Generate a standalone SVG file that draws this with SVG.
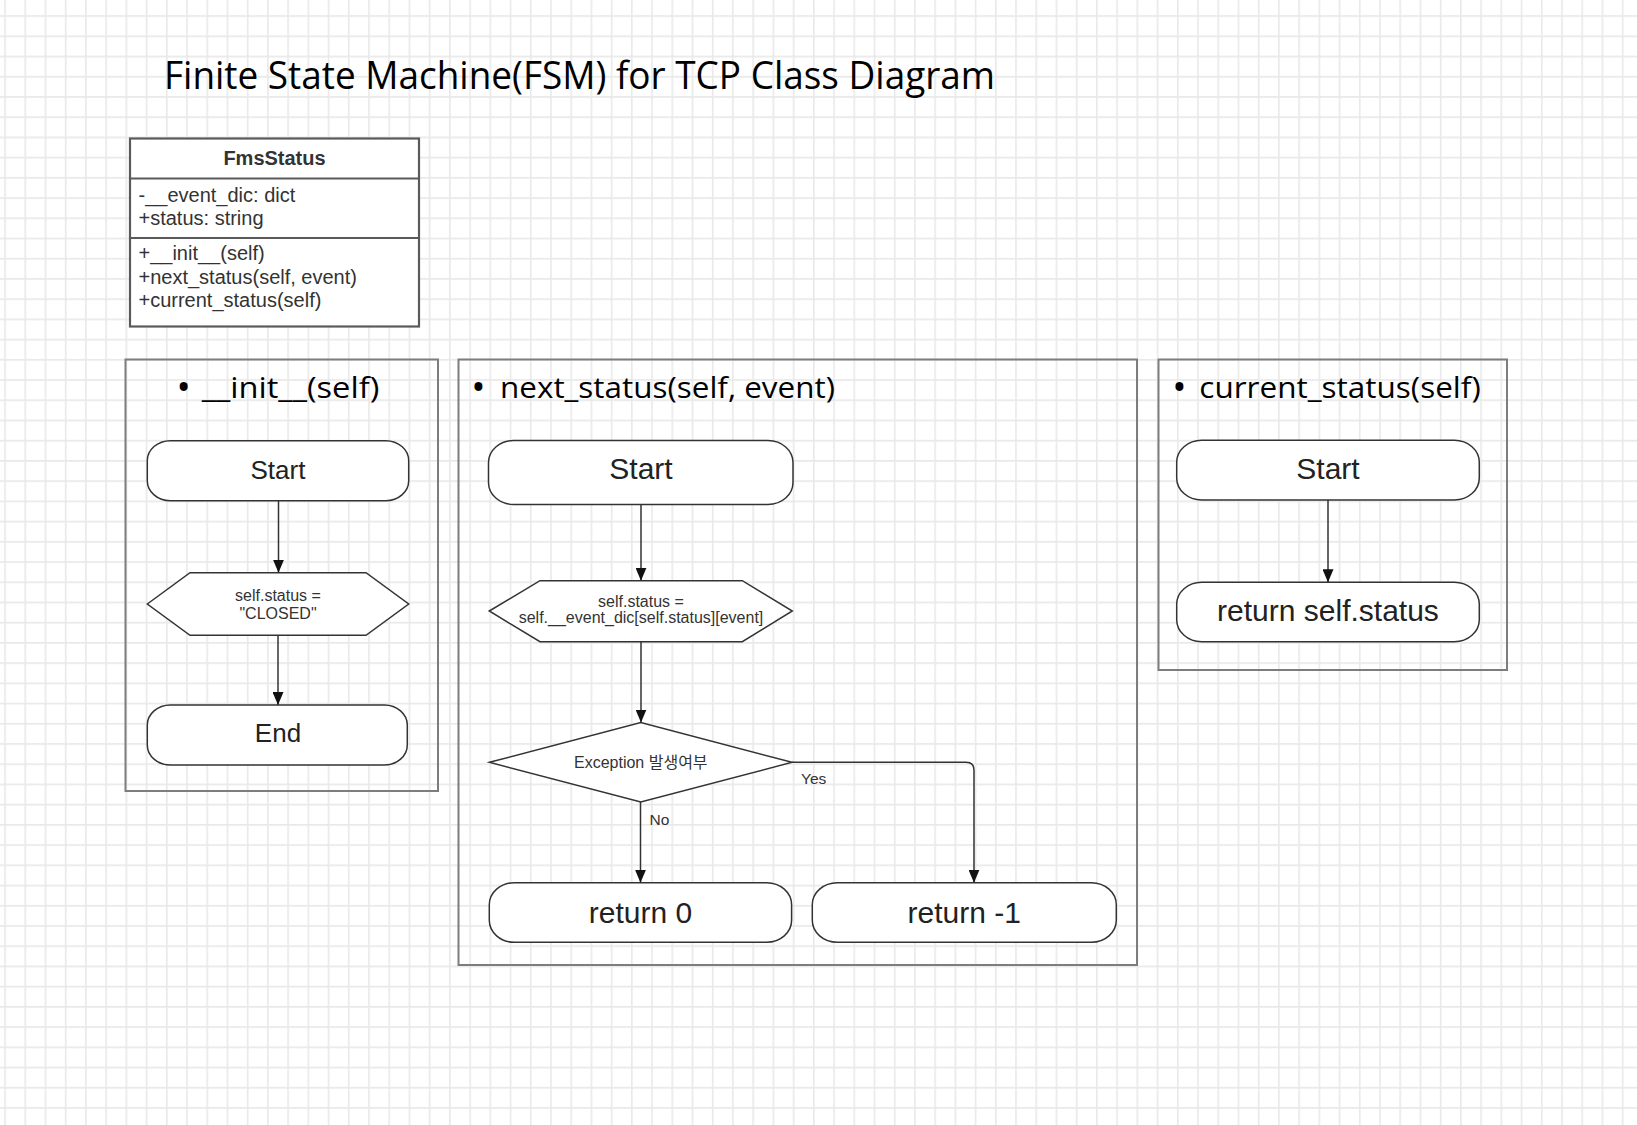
<svg xmlns="http://www.w3.org/2000/svg" width="1637" height="1125" viewBox="0 0 1637 1125">
<defs>
<pattern id="grid" x="4.2" y="15.2" width="20.22" height="20.22" patternUnits="userSpaceOnUse">
<path d="M0 0.8 H20.22 M0.8 0 V20.22" fill="none" stroke="#e9e9e9" stroke-width="1.6"/>
</pattern>
<marker id="arr" markerUnits="userSpaceOnUse" markerWidth="13" markerHeight="11" refX="13" refY="5.5" orient="auto">
<path d="M0,0 L13,5.5 L0,11 z" fill="#111"/>
</marker>
</defs>
<style>
.title{font-family:"Open Sans","Noto Sans",sans-serif;fill:#000}
.sec{font-family:"Open Sans","Noto Sans",sans-serif;font-size:30px;fill:#000}
.bul{font-family:"Open Sans","Noto Sans",sans-serif;font-size:38px;fill:#000;text-anchor:middle}
.cont{fill:none;stroke:#7d7d7d;stroke-width:2}
.cls{fill:#fff;stroke:#5a5a5a;stroke-width:2.2}
.clsline{stroke:#5a5a5a;stroke-width:2.2}
.ct{font-family:"Liberation Sans",Arial,sans-serif;font-size:20px;fill:#333}
.shape{fill:#fff;stroke:#333;stroke-width:1.5}
.big{font-family:"Liberation Sans",Arial,sans-serif;font-size:30px;fill:#222;text-anchor:middle}
.mid{font-family:"Liberation Sans",Arial,sans-serif;font-size:26px;fill:#222;text-anchor:middle}
.small{font-family:"Liberation Sans","Noto Sans CJK KR",Arial,sans-serif;font-size:16px;fill:#333;text-anchor:middle}
.lbl{font-family:"Liberation Sans",Arial,sans-serif;font-size:15.5px;fill:#333}
.conn{fill:none;stroke:#333;stroke-width:1.5;marker-end:url(#arr)}
</style>
<rect x="0" y="0" width="1637" height="1125" fill="#fff"/>
<rect x="0" y="0" width="1637" height="1125" fill="url(#grid)"/>

<text class="title" x="164" y="89" font-size="39" textLength="831" lengthAdjust="spacingAndGlyphs">Finite State Machine(FSM) for TCP Class Diagram</text>

<g id="FmsStatus">
<rect class="cls" x="130" y="138.5" width="289" height="188"/>
<line class="clsline" x1="130" y1="178.5" x2="419" y2="178.5"/>
<line class="clsline" x1="130" y1="238" x2="419" y2="238"/>
<text class="ct" x="274.5" y="165" text-anchor="middle" font-weight="bold">FmsStatus</text>
<text class="ct" x="138.5" y="201.5">-__event_dic: dict</text>
<text class="ct" x="138.5" y="225">+status: string</text>
<text class="ct" x="138.5" y="260">+__init__(self)</text>
<text class="ct" x="138.5" y="283.5">+next_status(self, event)</text>
<text class="ct" x="138.5" y="307">+current_status(self)</text>
</g>

<g id="init_container">
<rect class="cont" x="125.5" y="359.5" width="312.5" height="431.5"/>
<text class="bul" x="183.7" y="401">•</text>
<text class="sec" x="201.7" y="398" textLength="177.6" lengthAdjust="spacingAndGlyphs">__init__(self)</text>
</g>
<g id="init_start">
<rect class="shape" x="147.3" y="440.7" width="261.4" height="60" rx="23" ry="20"/>
<text class="mid" x="278" y="478.5">Start</text>
</g>
<g id="init_assign">
<polygon class="shape" points="147.3,604 190,572.7 366,572.7 408.7,604 366,635.3 190,635.3"/>
<text class="small" x="278" y="600.7">self.status =</text>
<text class="small" x="278" y="619.3">"CLOSED"</text>
</g>
<g id="init_end">
<rect class="shape" x="147.3" y="705" width="260" height="60" rx="23" ry="20"/>
<text class="mid" x="278" y="742">End</text>
</g>

<g id="next_container">
<rect class="cont" x="458.5" y="359.5" width="678.5" height="605.5"/>
<text class="bul" x="478.5" y="401">•</text>
<text class="sec" x="500" y="398" textLength="335" lengthAdjust="spacingAndGlyphs">next_status(self, event)</text>
</g>
<g id="next_start">
<rect class="shape" x="488.5" y="440.5" width="304.5" height="64" rx="25" ry="22"/>
<text class="big" x="641" y="479">Start</text>
</g>
<g id="next_assign">
<polygon class="shape" points="489.3,611 540,580.7 742.3,580.7 792.3,611 742.3,641.7 540,641.7"/>
<text class="small" x="641" y="606.7">self.status =</text>
<text class="small" x="641" y="623">self.__event_dic[self.status][event]</text>
</g>
<g id="next_decision">
<polygon class="shape" points="489.5,762.3 640.8,722.5 792,762.3 640.8,802"/>
<text class="small" x="640.8" y="767.5" font-size="16.5">Exception 발생여부</text>
</g>
<g id="next_return0">
<rect class="shape" x="489.3" y="882.7" width="302.3" height="59.6" rx="25" ry="22"/>
<text class="big" x="640.5" y="922.5">return 0</text>
</g>
<g id="next_return_minus1">
<rect class="shape" x="812.3" y="882.7" width="304" height="59.6" rx="25" ry="22"/>
<text class="big" x="964.3" y="922.5">return -1</text>
</g>

<g id="current_container">
<rect class="cont" x="1158.5" y="359.5" width="348.5" height="310.5"/>
<text class="bul" x="1179.3" y="401">•</text>
<text class="sec" x="1199.3" y="398" textLength="281.4" lengthAdjust="spacingAndGlyphs">current_status(self)</text>
</g>
<g id="current_start">
<rect class="shape" x="1176.7" y="440.3" width="302.6" height="59.7" rx="25" ry="22"/>
<text class="big" x="1328" y="478.5">Start</text>
</g>
<g id="current_return">
<rect class="shape" x="1176.7" y="582.3" width="302.6" height="59.4" rx="25" ry="22"/>
<text class="big" x="1328" y="620.5">return self.status</text>
</g>

<g id="connectors">
<line class="conn" x1="278.5" y1="500.7" x2="278.5" y2="572.7"/>
<line class="conn" x1="278" y1="635.3" x2="278" y2="705"/>
<line class="conn" x1="641" y1="505" x2="641" y2="580.7"/>
<line class="conn" x1="641" y1="641.7" x2="641" y2="722.5"/>
<line class="conn" x1="640.5" y1="802" x2="640.5" y2="882.7"/>
<path class="conn" d="M792 762.3 H966 Q974 762.3 974 770.3 V882.7"/>
<line class="conn" x1="1328" y1="500" x2="1328" y2="582.3"/>
<text class="lbl" x="649.5" y="825">No</text>
<text class="lbl" x="801" y="784">Yes</text>
</g>
</svg>
